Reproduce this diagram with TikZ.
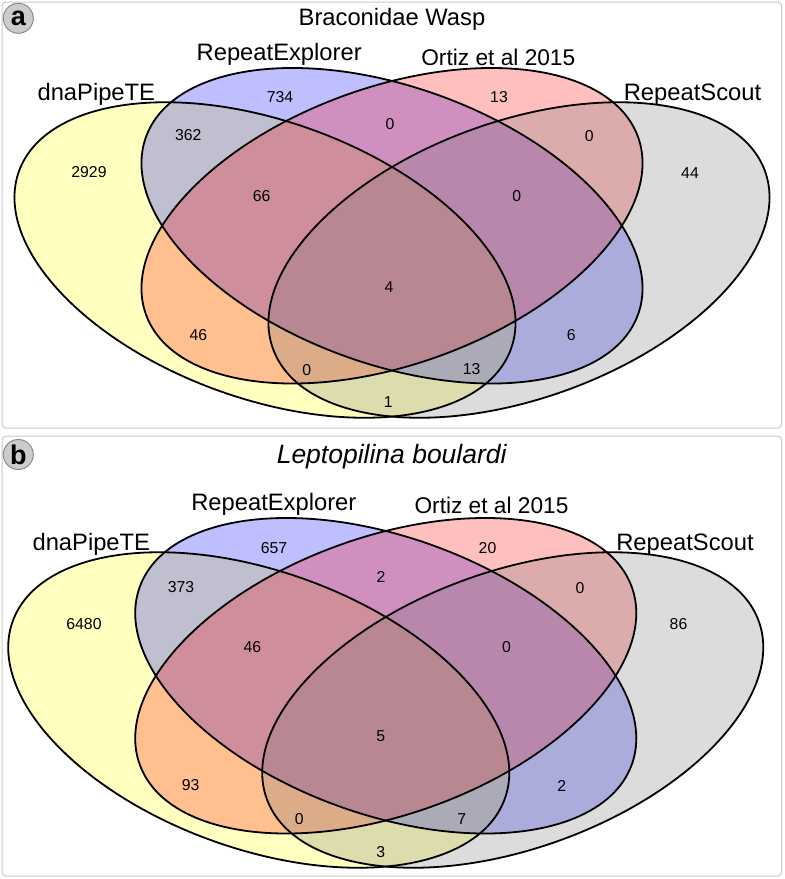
\documentclass[tikz,border=0pt]{standalone}
\usepackage{fontspec}
\setmainfont{Liberation Sans}
\definecolor{vyellow}{RGB}{255,255,0}
\definecolor{vblue}{RGB}{0,0,255}
\definecolor{vred}{RGB}{255,0,0}
\definecolor{vgray}{RGB}{115,115,115}
\definecolor{framegray}{RGB}{200,200,200}
\definecolor{badgefill}{RGB}{204,204,204}
\definecolor{badgeline}{RGB}{140,140,140}
\tikzset{
  fillA/.style={fill=vyellow, fill opacity=0.25},
  fillB/.style={fill=vblue, fill opacity=0.25},
  fillC/.style={fill=vred, fill opacity=0.25},
  fillD/.style={fill=vgray, fill opacity=0.25},
  outline/.style={draw=black, line width=1.8pt},
  setlab/.style={font=\fontsize{23.75}{28}\selectfont, inner sep=0pt, anchor=base},
  titlelab/.style={inner sep=0pt, anchor=base},
  num/.style={font=\fontsize{15.8}{19}\selectfont, inner sep=0pt},
  panelframe/.style={draw=framegray, line width=1pt, rounded corners=4pt},
  badge/.style={circle, fill=badgefill, draw=badgeline, line width=1pt, minimum size=30pt, inner sep=0pt, font=\bfseries\fontsize{27}{30}\selectfont}
}
\newcommand{\vennellipse}[4]{% style, cx, cy(image), angle
  \path[#1, shift={(#2,-#3)}, rotate=#4] (0,0) ellipse [x radius=261.57pt, y radius=138.63pt];}
\newcommand{\drawvenn}{%
  \vennellipse{fillA}{265}{260}{-19.84}
  \vennellipse{fillB}{392}{225.75}{-19.84}
  \vennellipse{fillC}{392}{225.75}{19.84}
  \vennellipse{fillD}{519}{260}{19.84}
  \vennellipse{outline}{265}{260}{-19.84}
  \vennellipse{outline}{392}{225.75}{-19.84}
  \vennellipse{outline}{392}{225.75}{19.84}
  \vennellipse{outline}{519}{260}{19.84}
}
\begin{document}
\begin{tikzpicture}[x=1pt,y=1pt]
\useasboundingbox (0,0) rectangle (785,-879);
% frames
\draw[panelframe] (2,-2) rectangle (781.7,-428);
\draw[panelframe] (2,-436) rectangle (781.7,-876);
% panel a
\drawvenn
\node[badge] (ba) at (18.3,-18.3) {a};
\node[titlelab, font=\fontsize{23.75}{28}\selectfont] (ta) at (392,-25) {Braconidae Wasp};
\node[setlab] (la1) at (96.3,-100) {dnaPipeTE};
\node[setlab] (la2) at (279.2,-60.7) {RepeatExplorer};
\node[setlab, font=\fontsize{22.7}{27}\selectfont] (la3) at (498.3,-65) {Ortiz et al 2015};
\node[setlab] (la4) at (692.5,-100) {RepeatScout};
\node[num] (a1) at (89,-172.5) {2929};
\node[num] (a2) at (188.3,-135.5) {362};
\node[num] (a3) at (280,-97.3) {734};
\node[num] (a4) at (261.7,-196) {66};
\node[num] (a5) at (390,-124.3) {0};
\node[num] (a6) at (499,-97.3) {13};
\node[num] (a7) at (589.3,-135.7) {0};
\node[num] (a8) at (690,-173.5) {44};
\node[num] (a9) at (516.7,-196) {0};
\node[num] (a10) at (389,-287.3) {4};
\node[num] (a11) at (198.3,-335) {46};
\node[num] (a12) at (306.7,-370) {0};
\node[num] (a13) at (388.3,-402.5) {1};
\node[num] (a14) at (471.7,-369.3) {13};
\node[num] (a15) at (571.3,-335) {6};
% panel b
\begin{scope}[shift={(-6.25,-450)}]
\drawvenn
\end{scope}
\node[badge] (bb) at (18.3,-454.5) {b};
\node[titlelab, font=\itshape\fontsize{26.5}{30}\selectfont] (tb) at (391.7,-463.3) {Leptopilina boulardi};
\node[setlab] (lb1) at (91.3,-550) {dnaPipeTE};
\node[setlab] (lb2) at (273.8,-510) {RepeatExplorer};
\node[setlab, font=\fontsize{22.7}{27}\selectfont] (lb3) at (491.5,-513.3) {Ortiz et al 2015};
\node[setlab] (lb4) at (685,-550) {RepeatScout};
\node[num] (b1) at (84,-624) {6480};
\node[num] (b2) at (181,-587.3) {373};
\node[num] (b3) at (274,-548.3) {657};
\node[num] (b4) at (252.5,-646.7) {46};
\node[num] (b5) at (381,-577.3) {2};
\node[num] (b6) at (487.5,-548.3) {20};
\node[num] (b7) at (580,-588.3) {0};
\node[num] (b8) at (678.5,-624) {86};
\node[num] (b9) at (506.5,-646.7) {0};
\node[num] (b10) at (380.7,-736) {5};
\node[num] (b11) at (190.7,-785) {93};
\node[num] (b12) at (299.3,-819) {0};
\node[num] (b13) at (380.7,-852.3) {3};
\node[num] (b14) at (461.7,-819) {7};
\node[num] (b15) at (561.7,-785.7) {2};
\end{tikzpicture}
\end{document}
